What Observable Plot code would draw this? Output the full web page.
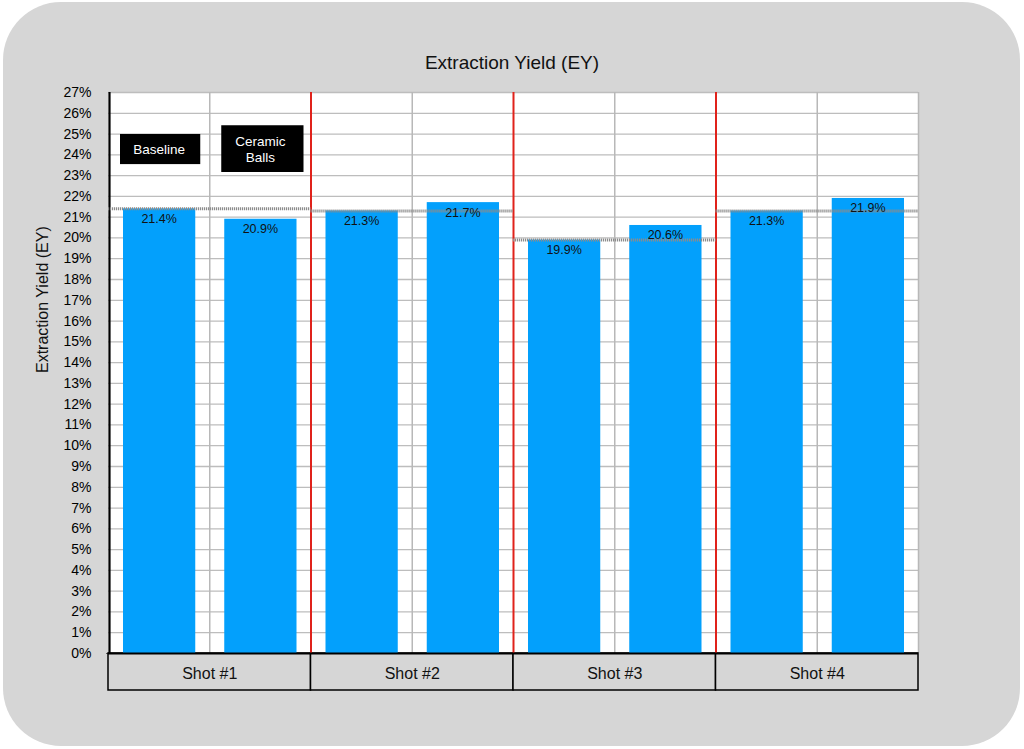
<!DOCTYPE html>
<html>
<head>
<meta charset="utf-8">
<script src="https://cdn.jsdelivr.net/npm/d3@7"></script>
<script src="https://cdn.jsdelivr.net/npm/@observablehq/plot@0.6"></script>
<style>
  html, body { margin: 0; padding: 0; background: #ffffff; }
  #card {
    position: relative; width: 1024px; height: 749px; overflow: hidden;
    font-family: "Liberation Sans", Arial, Helvetica, sans-serif;
  }
  #bg {
    position: absolute; left: 3px; top: 2px; width: 1017px; height: 744px;
    background: #d6d6d6; border-radius: 58px;
  }
  #title {
    position: absolute; left: 0; width: 1024px; top: 52px; text-align: center;
    font-size: 19px; color: #111;
  }
  #chart { position: absolute; left: 0; top: 0; }
</style>
</head>
<body>
<div id="card">
  <div id="bg"></div>
  <div id="title">Extraction Yield (EY)</div>
  <div id="chart"></div>
</div>
<script>
const shots = ["Shot #1", "Shot #2", "Shot #3", "Shot #4"];
const conditions = ["Baseline", "Ceramic Balls"];
const baselineEY = [21.4, 21.3, 19.9, 21.3];
const ceramicEY = [20.9, 21.7, 20.6, 21.9];
const yTickValues = d3.range(0, 28);

// bar table built from the arrays
const bars = [];
shots.forEach((s, g) => {
  bars.push({shot: s, cond: conditions[0], i: 2 * g, v: baselineEY[g]});
  bars.push({shot: s, cond: conditions[1], i: 2 * g + 1, v: ceramicEY[g]});
});
const groups = shots.map((s, g) => ({shot: s, g, base: baselineEY[g]}));
const slots = d3.range(0, bars.length + 1);

const fmt = v => v.toFixed(1) + "%";
const BLUE = "#03a0fc";

const chart = Plot.plot({
  width: 1024,
  height: 749,
  marginLeft: 108,
  marginRight: 106,
  marginTop: 92,
  marginBottom: 96,
  style: {background: "transparent", fontFamily: "Liberation Sans, Arial, Helvetica, sans-serif", overflow: "visible"},
  x: {domain: [0, bars.length], axis: null},
  y: {domain: [0, 27]},
  marks: [
    Plot.frame({fill: "white", stroke: "none"}),
    Plot.ruleY(yTickValues, {stroke: "#bdbdbd", strokeWidth: 1.3}),
    Plot.ruleX(slots.filter(d => d % 2 === 1 || d === bars.length), {stroke: "#b8b8b8", strokeWidth: 1.5}),
    Plot.rect(groups, {
      x1: d => 2 * d.g, x2: d => 2 * d.g + 2, y1: 0, y2: 0,
      insetBottom: -37, fill: "#d6d6d6", stroke: "black", strokeWidth: 1.5
    }),
    Plot.text(groups, {
      x: d => 2 * d.g + 1, y: 0, text: "shot", dy: 20, fontSize: 16, fill: "#111"
    }),
    Plot.rectY(bars, {
      x1: "i", x2: d => d.i + 1, y: "v",
      insetLeft: 15, insetRight: 14, fill: BLUE
    }),
    // category separators extending above the baseline
    Plot.ruleX(slots.filter(d => d % 2 === 0), {
      y1: 0, y2: 1.75, insetBottom: -37, dx: -1.5, stroke: "black", strokeWidth: 1.5
    }),
    Plot.ruleX(slots.filter(d => d % 2 === 0 && d > 0 && d < bars.length), {
      stroke: "#e0221b", strokeWidth: 2
    }),
    Plot.ruleX([0], {stroke: "black", strokeWidth: 2.2, dx: 1}),
    Plot.ruleY([0], {stroke: "black", strokeWidth: 2}),
    Plot.ruleY(groups, {
      x1: d => 2 * d.g, x2: d => 2 * d.g + 2, y: "base",
      stroke: "#8c8c8c", strokeWidth: 3, strokeDasharray: "1.2,0.8"
    }),
    Plot.text(bars, {
      x: d => d.i + 0.5, y: "v", text: d => fmt(d.v), dy: 10, fontSize: 12.5, fill: "#111"
    }),
    // legend boxes
    Plot.rect([conditions[0]], {x1: 0, x2: 1, y1: 23.53, y2: 24.98, insetLeft: 12, insetRight: 9, fill: "black"}),
    Plot.text([conditions[0]], {x: 0.5, y: 24.25, text: d => d, fill: "white", fontSize: 13.5}),
    Plot.rect([conditions[1]], {x1: 1, x2: 2, y1: 23.15, y2: 25.4, insetLeft: 12, insetRight: 7, fill: "black"}),
    Plot.text([conditions[1]], {x: 1.5, y: 24.3, text: d => d.replace(" ", "\n"), fill: "white", fontSize: 13.5, lineHeight: 1.25}),
    Plot.axisY(yTickValues, {
      tickFormat: d => d + "%", tickSize: 0, tickPadding: 17, fontSize: 14,
      label: null
    }),
    Plot.text(["Extraction Yield (EY)"], {
      frameAnchor: "left", rotate: -90, dx: -66, fontSize: 16, fill: "#111", text: d => d
    })
  ]
});
document.getElementById("chart").appendChild(chart);
</script>
</body>
</html>
